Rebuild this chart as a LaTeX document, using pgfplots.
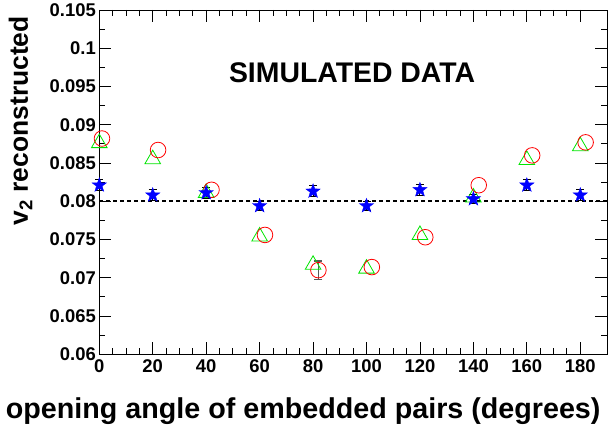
\documentclass[border=0pt]{standalone}
\usepackage{fontspec}
\setmainfont{Liberation Sans}
\usepackage{pgfplots}
\pgfplotsset{compat=1.18}
\pgfdeclareplotmark{fstar}{%
  \pgfpathmoveto{\pgfpointpolar{90}{\pgfplotmarksize}}%
  \pgfpathlineto{\pgfpointpolar{126}{0.4\pgfplotmarksize}}%
  \pgfpathlineto{\pgfpointpolar{162}{\pgfplotmarksize}}%
  \pgfpathlineto{\pgfpointpolar{198}{0.4\pgfplotmarksize}}%
  \pgfpathlineto{\pgfpointpolar{234}{\pgfplotmarksize}}%
  \pgfpathlineto{\pgfpointpolar{270}{0.4\pgfplotmarksize}}%
  \pgfpathlineto{\pgfpointpolar{306}{\pgfplotmarksize}}%
  \pgfpathlineto{\pgfpointpolar{342}{0.4\pgfplotmarksize}}%
  \pgfpathlineto{\pgfpointpolar{18}{\pgfplotmarksize}}%
  \pgfpathlineto{\pgfpointpolar{54}{0.4\pgfplotmarksize}}%
  \pgfpathclose
  \pgfusepathqfillstroke
}
\begin{document}
\begin{tikzpicture}
\begin{axis}[
  scale only axis, width=507.7bp, height=344.3bp,
  xmin=0, xmax=190, ymin=0.06, ymax=0.105,
  xtick={0,20,40,60,80,100,120,140,160,180},
  ytick={0.06,0.065,0.07,0.075,0.08,0.085,0.09,0.095,0.1,0.105},
  minor x tick num=3, minor y tick num=1,
  tick align=inside, xtick pos=both, ytick pos=both,
  major tick length=12bp, minor tick length=6bp,
  tick style={black, line width=0.9pt},
  axis line style={line width=1pt},
  scaled y ticks=false,
  /pgf/number format/assume math mode=true,
  yticklabel={\pgfmathprintnumber[fixed,precision=3]{\tick}},
  tick label style={font=\fontsize{18.5}{20}\selectfont\bfseries},
  xticklabel style={yshift=-2bp},
  xlabel={opening angle of embedded pairs (degrees)},
  ylabel={v\textsubscript{2} reconstructed},
  xlabel style={font=\fontsize{28.8}{32}\selectfont\bfseries, at={(axis description cs:1,0)}, anchor=south east, yshift=-74bp, xshift=-3bp},
  ylabel style={font=\fontsize{26.5}{30}\selectfont\bfseries, at={(axis description cs:-0.125,0.992)}, anchor=south east},
  clip=false,
]
\addplot[black, dash pattern=on 4bp off 3bp, line width=1.6pt, forget plot] coordinates {(0,0.08) (190,0.08)};

\addplot[only marks, mark=triangle, mark size=9bp, color=green!90!black, mark options={line width=0.8pt}] coordinates {
(0,0.0876) (20,0.0855) (40,0.0811) (60,0.0754) (80,0.0717) (100,0.0712) (120,0.0756) (140,0.0805) (160,0.0854) (180,0.0872)};

\addplot[only marks, mark=o, mark size=7.8bp, color=red, mark options={line width=0.8pt}] coordinates {
(1,0.0882) (22,0.0867) (42,0.0815) (62,0.0756) (102,0.0714) (122,0.0753) (142,0.0821) (162,0.0860) (182,0.0877)};

\addplot[only marks, mark=o, mark size=7.8bp, color=red, mark options={line width=0.8pt},
  error bars/.cd, y dir=both, y explicit, error mark options={rotate=90, mark size=4bp, gray!70!black, line width=1.2pt}, error bar style={gray!70!black, line width=1pt}] coordinates {
(82,0.0710) +- (0,0.0012)};

\addplot[only marks, mark=fstar, mark size=7.5bp, color=blue, mark options={fill=blue, line width=0.4pt},
  error bars/.cd, y dir=both, y explicit, error mark options={rotate=90, mark size=4bp, black, line width=1pt}, error bar style={black, line width=1pt}] coordinates {
(0,0.0821) +- (0,0.0007) (20,0.0808) +- (0,0.0007) (40,0.0811) +- (0,0.0007) (60,0.0794) +- (0,0.0006) (80,0.0813) +- (0,0.0007)
(100,0.0794) +- (0,0.0006) (120,0.0815) +- (0,0.0007) (140,0.0803) +- (0,0.0006) (160,0.0821) +- (0,0.0007) (180,0.0808) +- (0,0.0007)};

\node[font=\fontsize{28.5}{32}\selectfont\bfseries] at (axis cs:94.6,0.0968) {SIMULATED DATA};
\coordinate (sw) at (rel axis cs:0,0);
\coordinate (ne) at (rel axis cs:1,1);
\end{axis}
\pgfresetboundingbox
\path[use as bounding box] ([shift={(-99.3bp,-74.7bp)}]sw) rectangle ([shift={(1bp,10bp)}]ne);
\end{tikzpicture}
\end{document}
